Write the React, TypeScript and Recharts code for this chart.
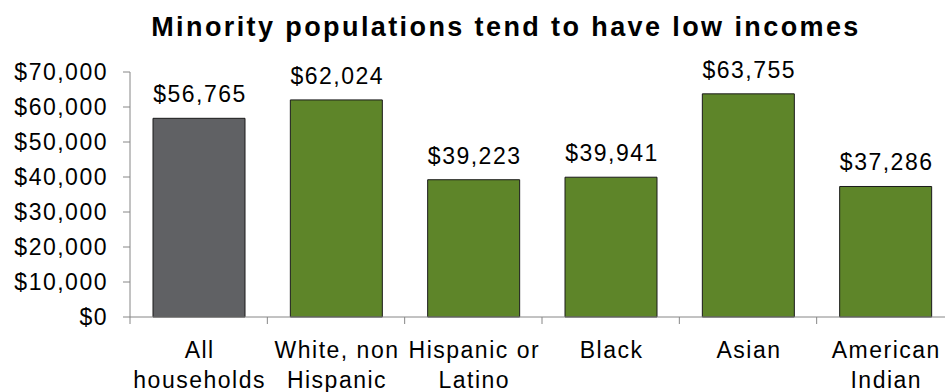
import React from "react";
import { BarChart, Bar, XAxis, YAxis, Cell, LabelList } from "recharts";

const categories = ["All\nhouseholds", "White, non\nHispanic", "Hispanic or\nLatino", "Black", "Asian", "American\nIndian"];
const incomes = [56765, 62024, 39223, 39941, 63755, 37286];
const barColors = ["#606164", "#5e8529", "#5e8529", "#5e8529", "#5e8529", "#5e8529"];
const yTicks = [0, 10000, 20000, 30000, 40000, 50000, 60000, 70000];

const CHART_W = 960;
const CHART_H = 392;
const MARGIN = { top: 72, right: 6, left: 0, bottom: 0 };
const Y_W = 130;
const BAND = (CHART_W - MARGIN.left - MARGIN.right - Y_W) / categories.length;

const FONT = '"Liberation Sans", Arial, sans-serif';
const AXIS = "#868686";
const FS = 23;
const LS = 1.5;

const data = categories.map((name, i) => ({ name, value: incomes[i] }));

const fmt = (v: number) => "$" + v.toLocaleString("en-US");

function XTick(props: any) {
  const { x, y, payload } = props;
  const lines = String(payload.value).split("\n");
  return (
    <g>
      <line x1={x - BAND / 2} x2={x - BAND / 2} y1={y} y2={y + 7} stroke={AXIS} strokeWidth={1} />
      {lines.map((l, i) => (
        <text key={i} x={x + 1} y={y + 41 + i * 30} textAnchor="middle" fontSize={FS} letterSpacing={LS} fill="#000" fontFamily={FONT}>
          {l}
        </text>
      ))}
    </g>
  );
}

function YTick(props: any) {
  const { x, y, payload } = props;
  return (
    <text x={x - 15} y={y} dy="0.355em" textAnchor="end" fontSize={FS} letterSpacing={LS} fill="#000" fontFamily={FONT}>
      {fmt(payload.value)}
    </text>
  );
}

function ValueLabel(props: any) {
  const { x, y, width, value } = props;
  return (
    <text x={x + width / 2 + 1} y={y - 16} textAnchor="middle" fontSize={FS} letterSpacing={LS} fill="#000" fontFamily={FONT}>
      {fmt(value)}
    </text>
  );
}

export default function App() {
  return (
    <div style={{ position: "absolute", left: 0, top: 0, width: 945, height: 392, overflow: "hidden", background: "#fff" }}>
      <div
        style={{
          position: "absolute",
          left: 0,
          width: 1012,
          top: 11,
          textAlign: "center",
          fontFamily: FONT,
          fontWeight: "bold",
          fontSize: 27,
          letterSpacing: 2.4,
          lineHeight: "32px",
          color: "#000",
        }}
      >
        Minority populations tend to have low incomes
      </div>
      <BarChart width={CHART_W} height={CHART_H} data={data} margin={MARGIN}>
        <YAxis
          width={Y_W}
          domain={[0, 70000]}
          ticks={yTicks}
          interval={0}
          tick={<YTick />}
          tickSize={7}
          tickMargin={0}
          stroke={AXIS}
          axisLine={{ stroke: AXIS }}
          tickLine={{ stroke: AXIS }}
        />
        <XAxis
          dataKey="name"
          height={CHART_H - MARGIN.top - 245}
          interval={0}
          tick={<XTick />}
          tickSize={0}
          tickMargin={0}
          tickLine={false}
          axisLine={{ stroke: AXIS }}
        />
        <Bar dataKey="value" barSize={92} stroke="#1a1a1a" strokeWidth={1} isAnimationActive={false}>
          {data.map((d, i) => (
            <Cell key={d.name} fill={barColors[i]} />
          ))}
          <LabelList dataKey="value" content={<ValueLabel />} />
        </Bar>
      </BarChart>
    </div>
  );
}
